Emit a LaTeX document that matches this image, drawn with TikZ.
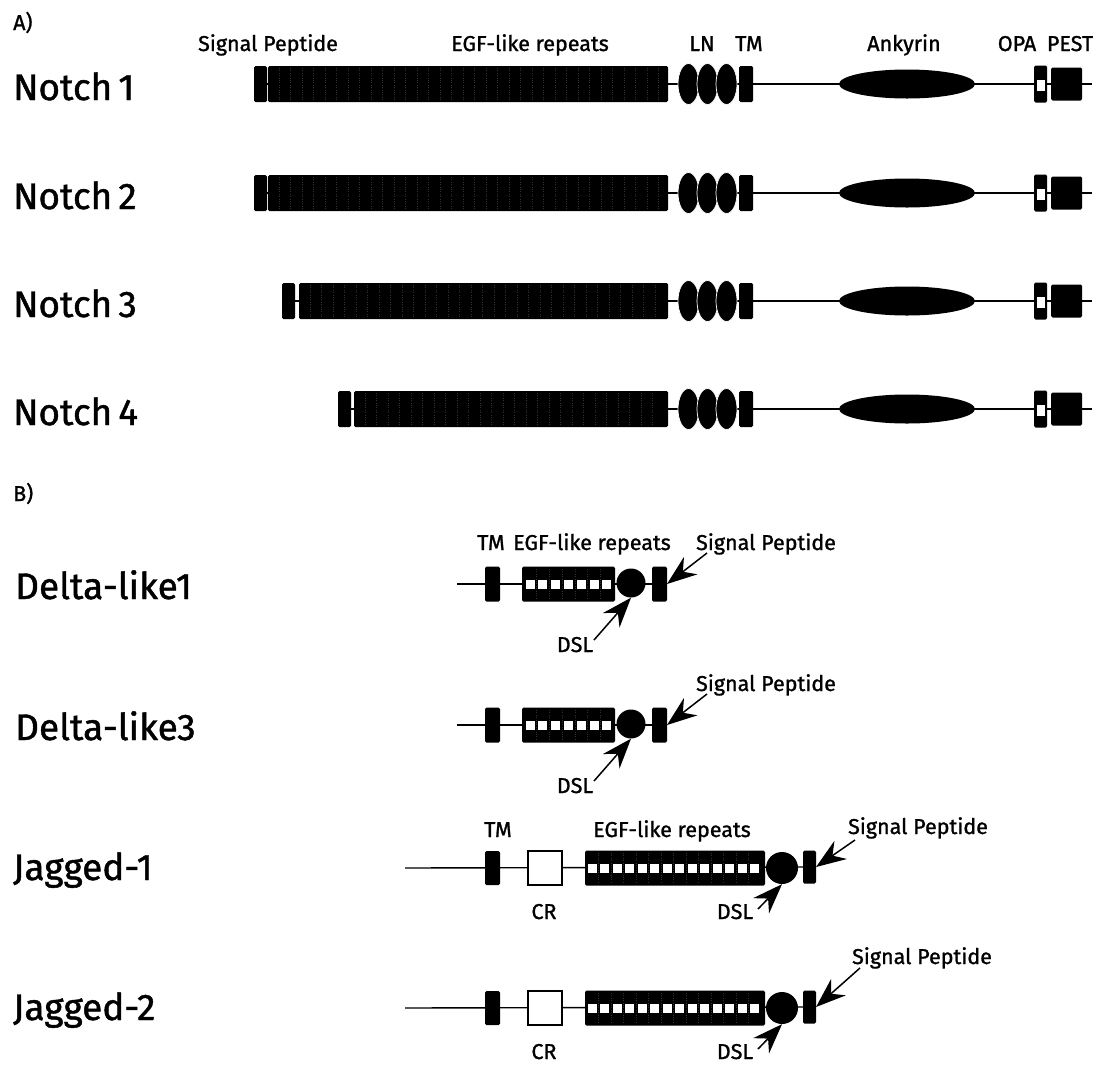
\documentclass[tikz,border=0pt]{standalone}
\usepackage{fontspec}
\setmainfont{Fira Sans}[FakeBold=1.2]
\usetikzlibrary{arrows.meta,shapes.geometric,backgrounds}

\tikzset{
  dom/.style={fill=black, draw=none, rounded corners=1.5pt, inner sep=0pt, outer sep=0pt},
  lnell/.style={ellipse, fill=black, draw=white, line width=0.7pt, inner sep=0pt,
                minimum width=21pt, minimum height=41pt},
  backbone/.style={line width=1.4pt},
  >={Stealth[length=30pt, width=22pt, inset=10pt]},
  callout/.style={line width=1.5pt, ->},
  biglab/.style={font=\fontsize{37}{44}\selectfont, inner sep=0pt, anchor=base west},
  smalllab/.style={font=\fontsize{21.5}{26}\selectfont, inner sep=0pt, anchor=base},
  divider/.style={black!80, line width=0.4pt, dotted},
  crbox/.style={fill=white, draw=black, line width=1.1pt, inner sep=0pt,
                minimum width=34pt, minimum height=34pt},
  hole/.style={fill=white, draw=none, inner sep=0pt, minimum width=9pt, minimum height=9pt},
}

\begin{document}
\begin{tikzpicture}[x=1pt,y=-1pt]
\useasboundingbox (0,0) rectangle (1108,1066);

% ---------------- A) Notch receptors ----------------
\node[smalllab, anchor=base west] (labA) at (13,30) {A)};

\node[smalllab] (h-sp)  at (268,51)  {Signal Peptide};
\node[smalllab] (h-egf) at (530,51)  {EGF-like repeats};
\node[smalllab] (h-ln)  at (702,51)  {LN};
\node[smalllab] (h-tm)  at (749,51)  {TM};
\node[smalllab] (h-ank) at (904,51)  {Ankyrin};
\node[smalllab] (h-opa) at (1017,51) {OPA};
\node[smalllab] (h-pest) at (1070,51) {PEST};

\foreach \i/\y/\spl/\egfl in {1/84/254/268, 2/193/254/268, 3/301/282/299, 4/409/338/354} {
  \pgfmathsetmacro\egfw{668-\egfl}
  \pgfmathsetmacro\egfc{(668+\egfl)/2}
  \pgfmathsetmacro\spc{\spl+6.5}
  \node[biglab] (lab-n\i) at (13,\y+16) {Notch\,\i};
  \coordinate (n\i-end) at (1092,\y);
  \node[dom, minimum width=13pt, minimum height=36pt] (n\i-sp) at (\spc,\y) {};
  \node[dom, minimum width=\egfw pt, minimum height=36pt] (n\i-egf) at (\egfc,\y) {};
  \pgfmathsetmacro\xa{\egfl+11}
  \pgfmathsetmacro\xb{\egfl+22.5}
  \foreach \xx in {\xa,\xb,...,662} {
    \draw[divider] (\xx,\y-16) -- (\xx,\y+16);
  }
  \node[lnell] (n\i-ln1) at (688.5,\y) {};
  \node[lnell] (n\i-ln2) at (707.5,\y) {};
  \node[lnell] (n\i-ln3) at (726.5,\y) {};
  \node[dom, minimum width=14pt, minimum height=36pt] (n\i-tm) at (746,\y) {};
  \node[ellipse, fill=black, inner sep=0pt, minimum width=136pt, minimum height=29pt] (n\i-ank) at (907,\y) {};
  \node[dom, minimum width=13pt, minimum height=37pt] (n\i-opa) at (1040.5,\y) {};
  \node[fill=white, inner sep=0pt, minimum width=8pt, minimum height=11pt] (n\i-opah) at (1041,\y+1) {};
  \node[dom, minimum width=31pt, minimum height=33pt] (n\i-pest) at (1066.5,\y) {};
  \begin{scope}[on background layer]
    \draw[backbone] (n\i-sp.center) -- (n\i-end);
  \end{scope}
}

% ---------------- B) Notch ligands ----------------
\node[smalllab, anchor=base west] (labB) at (13,501) {B)};

% Delta-like ligands
\foreach \i/\y in {1/584, 3/725} {
  \node[biglab] (lab-d\i) at (15,\y+15) {Delta-like\i};
  \coordinate (d\i-start) at (457,\y);
  \node[dom, minimum width=15pt, minimum height=35pt] (d\i-tm) at (492.5,\y) {};
  \node[dom, minimum width=93pt, minimum height=35pt] (d\i-egf) at (568.5,\y) {};
  \foreach \k in {0,...,6} {
    \node[hole] (d\i-h\k) at (530+\k*12.8,\y) {};
  }
  \foreach \k in {1,...,6} {
    \draw[divider] (523.6+\k*12.8,\y-15) -- (523.6+\k*12.8,\y+15);
  }
  \node[circle, fill=black, inner sep=0pt, minimum size=29pt] (d\i-dsl) at (631,\y-1) {};
  \node[dom, minimum width=15pt, minimum height=35pt] (d\i-sp) at (659.5,\y) {};
  \begin{scope}[on background layer]
    \draw[backbone] (d\i-start) -- (d\i-sp.center);
  \end{scope}
  \node[smalllab] (d\i-splab) at (766,\y-34) {Signal Peptide};
  \coordinate (d\i-sptail) at (707,\y-31);
  \draw[callout] (d\i-sptail) -- (d\i-sp.east);
  \node[smalllab] (d\i-dsllab) at (575,\y+68) {DSL};
  \coordinate (d\i-dsltail) at (594,\y+56);
  \draw[callout] (d\i-dsltail) -- (d\i-dsl.south);
}
\node[smalllab] (d1-tmlab)  at (491,550) {TM};
\node[smalllab] (d1-egflab) at (592,550) {EGF-like repeats};

% Jagged ligands
\foreach \i/\y in {1/868, 2/1008} {
  \node[biglab] (lab-j\i) at (13,\y+12) {Jagged-\i};
  \coordinate (j\i-start) at (405,\y);
  \node[dom, minimum width=15pt, minimum height=34pt] (j\i-tm) at (492.5,\y) {};
  \node[crbox] (j\i-cr) at (545,\y) {};
  \node[dom, minimum width=180pt, minimum height=35pt] (j\i-egf) at (675,\y) {};
  \foreach \k in {0,...,13} {
    \node[hole] (j\i-h\k) at (592+\k*12.5,\y) {};
  }
  \foreach \k in {1,...,13} {
    \draw[divider] (585.75+\k*12.5,\y-15) -- (585.75+\k*12.5,\y+15);
  }
  \node[circle, fill=black, inner sep=0pt, minimum size=32pt] (j\i-dsl) at (782,\y) {};
  \node[dom, minimum width=13pt, minimum height=33pt] (j\i-sp) at (809.5,\y-1) {};
  \begin{scope}[on background layer]
    \draw[backbone] (j\i-start) -- (j\i-sp.center);
  \end{scope}
  \node[smalllab] (j\i-crlab) at (544,\y+51) {CR};
  \node[smalllab] (j\i-dsllab) at (735,\y+51) {DSL};
  \coordinate (j\i-dsltail) at (758,\y+41);
  \draw[callout] (j\i-dsltail) -- (j\i-dsl.south);
}
\node[smalllab] (j1-tmlab)  at (498,837) {TM};
\node[smalllab] (j1-egflab) at (672,837) {EGF-like repeats};

\node[smalllab] (j1-splab) at (918,834) {Signal Peptide};
\coordinate (j1-sptail) at (855,840);
\draw[callout] (j1-sptail) -- (j1-sp.east);
\node[smalllab] (j2-splab) at (922,964) {Signal Peptide};
\coordinate (j2-sptail) at (860,968);
\draw[callout] (j2-sptail) -- (j2-sp.east);

\end{tikzpicture}
\end{document}
